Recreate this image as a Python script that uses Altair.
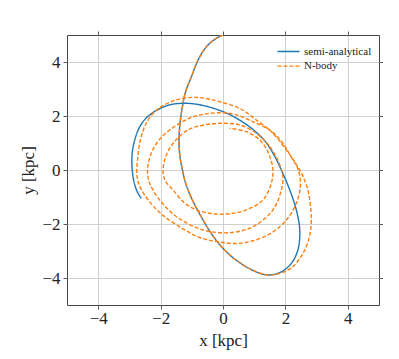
import altair as alt
import pandas as pd

series_names = ["semi-analytical", "N-body"]
series_colors = ["#1f77b4", "#ff7f0e"]

# semi-analytical orbit
sa_x = [0.00, -0.21, -0.53, -0.80, -1.01, -1.20, -1.30, -1.37, -1.41, -1.38, -1.30, -1.22, -1.10, -0.90, -0.75,
        -0.45, -0.15, 0.25, 0.60, 0.96, 1.44, 1.87, 2.19, 2.40, 2.46, 2.35, 2.14, 1.87, 1.66, 1.36, 0.96, 0.43,
        0.00, -0.60, -1.17, -1.75, -2.35, -2.67, -2.88, -2.92, -2.86, -2.75, -2.62]
sa_y = [5.00, 4.88, 4.57, 4.07, 3.46, 2.90, 2.35, 1.80, 1.11, 0.50, 0.00, -0.40, -0.80, -1.30, -1.62,
        -2.22, -2.70, -3.18, -3.48, -3.72, -3.89, -3.77, -3.46, -2.96, -2.22, -1.48, -0.74, 0.00, 0.50, 1.05, 1.50, 1.92,
        2.16, 2.38, 2.47, 2.40, 2.04, 1.60, 0.86, 0.25, -0.40, -0.80, -1.05]

# N-body orbit
nb_x = [0.00, -0.21, -0.53, -0.80, -1.01, -1.20, -1.30, -1.37, -1.41, -1.38, -1.30, -1.22, -1.10, -0.90, -0.75,
        -0.45, -0.15, 0.25, 0.60, 0.96, 1.44,
        1.90, 2.24, 2.50, 2.67, 2.80, 2.83, 2.80, 2.72, 2.55, 2.33, 2.03, 1.60, 1.07, 0.54, -0.11, -0.50, -0.96,
        -1.55, -2.13, -2.46, -2.65, -2.74, -2.76, -2.67, -2.35, -1.90, -1.25, -0.75, -0.21, 0.43, 0.96, 1.45,
        1.82, 2.10, 2.30, 2.45, 2.48, 2.38, 2.20, 1.92, 1.50, 0.96, 0.43, 0.00, -0.55, -1.07, -1.71, -2.13,
        -2.35, -2.42, -2.35, -2.03, -1.49, -0.64, 0.21, 0.96, 1.60, 1.87, 1.92, 1.80, 1.50, 1.07, 0.54, 0.00,
        -0.55, -1.10, -1.60, -1.85, -1.92, -1.85, -1.60, -1.25, -0.85, -0.30, 0.21, 0.75, 1.28, 1.55, 1.60,
        1.53, 1.38, 1.18, 0.75, 0.21]
nb_y = [5.00, 4.88, 4.57, 4.07, 3.46, 2.90, 2.35, 1.80, 1.11, 0.50, 0.00, -0.40, -0.80, -1.30, -1.62,
        -2.22, -2.70, -3.18, -3.48, -3.72, -3.89,
        -3.80, -3.58, -3.20, -2.84, -2.30, -1.85, -1.30, -0.74, -0.20, 0.25, 0.74, 1.36, 1.85, 2.28, 2.53, 2.64, 2.69,
        2.58, 2.22, 1.73, 1.10, 0.37, -0.20, -0.60, -1.18, -1.70, -2.20, -2.50, -2.65, -2.72, -2.62, -2.40,
        -2.10, -1.75, -1.36, -0.85, -0.35, 0.10, 0.45, 0.99, 1.48, 1.79, 2.04, 2.12, 2.08, 1.92, 1.48, 0.99,
        0.45, -0.05, -0.49, -1.11, -1.73, -2.22, -2.32, -2.10, -1.48, -0.74, -0.25, 0.25, 0.86, 1.36, 1.67, 1.73,
        1.68, 1.50, 0.99, 0.45, -0.05, -0.40, -0.74, -1.20, -1.48, -1.62, -1.62, -1.48, -1.11, -0.49, 0.00,
        0.40, 0.80, 1.11, 1.42, 1.54]

x_ticks = [-4, -2, 0, 2, 4]
y_ticks = [-4, -2, 0, 2, 4]

rows = []
for i, (a, b) in enumerate(zip(sa_x, sa_y)):
    rows.append({"series": series_names[0], "x": a, "y": b, "idx": i})
for i, (a, b) in enumerate(zip(nb_x, nb_y)):
    rows.append({"series": series_names[1], "x": a, "y": b, "idx": i})
df = pd.DataFrame(rows)

FONT = "Liberation Serif"
TXT = "#222222"
GRID = "#cccccc"

xscale = alt.Scale(domain=[-5, 5], nice=False, zero=False)
yscale = alt.Scale(domain=[-5, 5], nice=False, zero=False)

leg = alt.Legend(
    title=None, orient="none", legendX=215, legendY=10,
    symbolType="M-2,0H2", symbolSize=121, symbolStrokeWidth=1.4,
    labelFont=FONT, labelFontSize=11, labelColor=TXT, labelOffset=9,
    rowPadding=2.6, padding=0,
)

lines = alt.Chart(df).mark_line(strokeWidth=1.4, clip=True, interpolate="catmull-rom").encode(
    x=alt.X("x:Q", scale=xscale, axis=alt.Axis(
        values=x_ticks, title="x [kpc]", grid=True, gridColor=GRID, gridWidth=0.9,
        domain=False, tickSize=4, tickColor="#444444", tickWidth=0.9,
        labelFont=FONT, labelFontSize=17, labelColor=TXT, labelPadding=1,
        titleFont=FONT, titleFontSize=17, titleFontWeight="normal", titleColor=TXT, titlePadding=6)),
    y=alt.Y("y:Q", scale=yscale, axis=alt.Axis(
        values=y_ticks, title="y [kpc]", grid=True, gridColor=GRID, gridWidth=0.9,
        domain=False, tickSize=4, tickColor="#444444", tickWidth=0.9,
        labelFont=FONT, labelFontSize=17, labelColor=TXT, labelPadding=3,
        titleFont=FONT, titleFontSize=17, titleFontWeight="normal", titleColor=TXT, titlePadding=4)),
    color=alt.Color("series:N", scale=alt.Scale(domain=series_names, range=series_colors), legend=leg),
    strokeDash=alt.StrokeDash("series:N", scale=alt.Scale(domain=series_names, range=[[1, 0], [4, 2]]), legend=leg),
    order="idx:Q",
)

frame = alt.Chart(df).mark_line(opacity=0).encode(
    x=alt.X("x:Q", scale=xscale, axis=alt.Axis(
        orient="top", values=x_ticks, labels=False, title=None, grid=False, domain=False,
        tickSize=4, tickColor="#444444", tickWidth=0.9)),
    y=alt.Y("y:Q", scale=yscale, axis=alt.Axis(
        orient="right", values=y_ticks, labels=False, title=None, grid=False, domain=False,
        tickSize=4, tickColor="#444444", tickWidth=0.9)),
    detail="series:N",
    order="idx:Q",
)

chart = alt.layer(lines, frame).resolve_axis(x="independent", y="independent").properties(
    width=312, height=270,
    autosize=alt.AutoSizeParams(type="none"),
    padding={"left": 59, "top": 27, "right": 4, "bottom": 45},
).configure_view(stroke="#444444", strokeWidth=1)

chart.save("out.html", embed_options={"renderer": "svg", "actions": False})
